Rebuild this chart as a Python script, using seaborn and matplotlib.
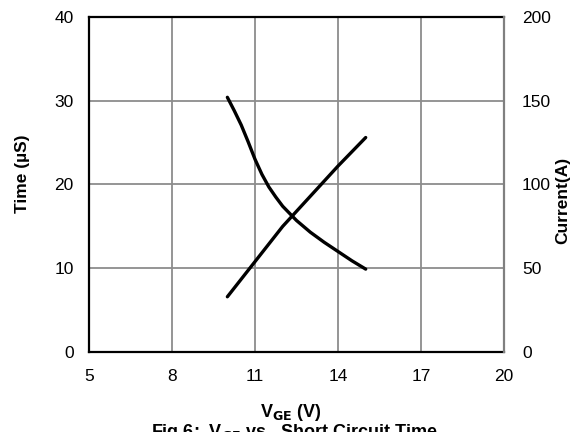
import pandas as pd
import seaborn as sns
import matplotlib.pyplot as plt

# values
vge_t = [10, 10.25, 10.5, 10.75, 11, 11.25, 11.5, 11.75, 12, 12.5, 13, 13.5, 14, 14.5, 15]
time_us = [30.4, 28.8, 27.1, 25.1, 23.0, 21.2, 19.7, 18.5, 17.4, 15.7, 14.3, 13.1, 12.0, 10.9, 9.9]

vge_i = [10, 11, 12, 13, 14, 15]
current_a = [33, 54, 75, 93, 111, 128]

x_ticks = [5, 8, 11, 14, 17, 20]
left_ticks = [0, 10, 20, 30, 40]
right_ticks = [0, 50, 100, 150, 200]

t_df = pd.DataFrame({"VGE": vge_t, "Time": time_us})
i_df = pd.DataFrame({"VGE": vge_i, "Current": current_a})

sns.set_style("white")
plt.rcParams["font.family"] = ["Liberation Sans", "DejaVu Sans"]
plt.rcParams["text.color"] = "black"
plt.rcParams["xtick.color"] = "black"
plt.rcParams["ytick.color"] = "black"
plt.rcParams["axes.labelcolor"] = "black"

fig, ax = plt.subplots(figsize=(5.82, 4.32), dpi=100)
fig.subplots_adjust(left=0.153, right=0.866, top=0.961, bottom=0.185)

sns.lineplot(data=t_df, x="VGE", y="Time", ax=ax, color="black", lw=2.4)
ax.set_xlim(5, 20)
ax.set_ylim(0, 40)
ax.set_xticks(x_ticks)
ax.set_yticks(left_ticks)
ax.grid(True, color="#8c8c8c", lw=1.3)
ax.tick_params(length=0, labelsize=12.5, pad=11)
ax.tick_params(axis="x", pad=12)
for s in ["left", "top", "bottom"]:
    ax.spines[s].set_color("black")
    ax.spines[s].set_linewidth(1.6)
ax.spines["right"].set_visible(False)
ax.set_xlabel("")
ax.set_ylabel("")

ax2 = ax.twinx()
sns.lineplot(data=i_df, x="VGE", y="Current", ax=ax2, color="black", lw=2.4)
ax2.set_ylim(0, 200)
ax2.set_yticks(right_ticks)
ax2.tick_params(length=0, labelsize=12.5, pad=13)
ax2.grid(False)
for s in ["left", "top", "bottom"]:
    ax2.spines[s].set_visible(False)
ax2.spines["right"].set_color("#808080")
ax2.spines["right"].set_linewidth(1.6)
ax2.set_ylabel("")

fig.text(23 / 582, 1 - 174 / 432, "Time (\u00b5S)", rotation=90, ha="center", va="center",
         fontsize=12.5, fontweight="bold")
fig.text(563 / 582, 1 - 200 / 432, "Current(A)", rotation=90, ha="center", va="center",
         fontsize=12.5, fontweight="bold")
fig.text(291 / 582, 0.044, "V$_{\\mathbf{GE}}$ (V)", ha="center", va="center",
         fontsize=13, fontweight="bold")
fig.text(295 / 582, 0.024, "Fig 6:  V$_{\\mathbf{GE}}$ vs.  Short Circuit Time", ha="center",
         va="top", fontsize=13, fontweight="bold")

fig.savefig("out.png", dpi=100)
